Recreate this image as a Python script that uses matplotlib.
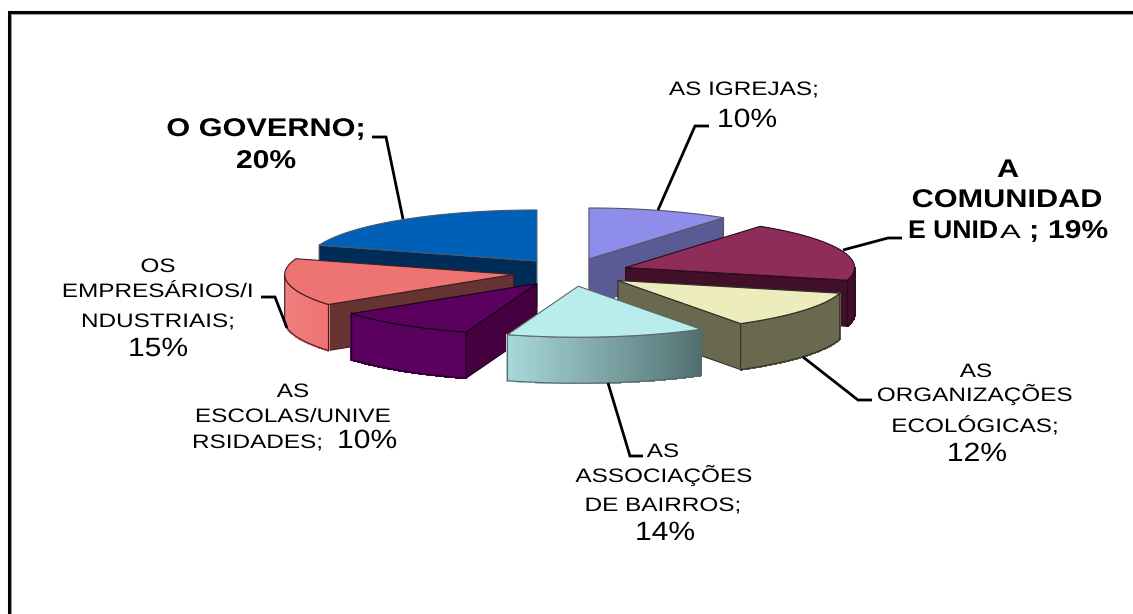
import numpy as np
import matplotlib
matplotlib.use('Agg')
import matplotlib.pyplot as plt
from matplotlib.colors import to_rgb
from matplotlib.patches import Polygon
from matplotlib.patheffects import AbstractPathEffect
from matplotlib.transforms import Affine2D

plt.rcParams['font.family'] = ['Liberation Sans', 'DejaVu Sans']

# slices, clockwise from 12 o'clock
names = ['AS IGREJAS', 'A COMUNIDADE UNIDA', 'AS ORGANIZAÇÕES ECOLÓGICAS', 'AS ASSOCIAÇÕES DE BAIRROS',
         'AS ESCOLAS/UNIVERSIDADES', 'OS EMPRESÁRIOS/INDUSTRIAIS', 'O GOVERNO']
values = [10, 19, 12, 14, 10, 15, 20]
top_colors = ['#8E8EEA', '#8E2D5A', '#ECECBC', '#B9EDED', '#5A005E', '#EE7474', '#0060B8']
side_colors = ['#5A5A94', '#401028', '#696950', '#6E9090', '#45003F', '#663333', '#002C58']
rim_left = ['#5A5A94', '#401028', '#696950', '#A9D8D8', '#5A005E', '#F08080', '#002C58']
rim_right = ['#5A5A94', '#401028', '#696950', '#4F6E70', '#5A005E', '#EE7474', '#002C58']
edge_colors = ['#55556a', '#2a0a1a', '#30302a', '#606868', '#1a0018', '#402020', '#445a70']
draw_order = [6, 0, 1, 2, 5, 4, 3]

# pie geometry in pixels
cx, cy = 571, 272.3
rx, ry = 229, 51
explode_x, explode_y = 58, 14
depth = 46


class StretchX(AbstractPathEffect):
    """the reference text is wider than the font, stretch it about x0"""
    def __init__(self, x0, sx):
        super().__init__()
        self.x0 = x0
        self.sx = sx

    def draw_path(self, renderer, gc, tpath, affine, rgbFace=None):
        extra = Affine2D().translate(-self.x0, 0).scale(self.sx, 1).translate(self.x0, 0)
        renderer.draw_path(gc, tpath, affine + extra, rgbFace)


fig = plt.figure(figsize=(11.33, 6.14), dpi=100)
ax = fig.add_axes([0, 0, 1, 1])
ax.set_xlim(0, 1133)
ax.set_ylim(614, 0)
ax.axis('off')

# frame: only top and left are there
ax.plot([1133, 9, 9], [12, 12, 614], color='black', lw=2.2, solid_joinstyle='miter')
ax.plot([1133, 10.5, 10.5], [13.8, 13.8, 614], color='#999999', lw=0.8)

fractions = np.array(values) / sum(values)
ends = np.cumsum(fractions) * 360
starts = ends - fractions * 360

for i in draw_order:
    a0, a1 = starts[i], ends[i]
    mid = np.radians((a0 + a1) / 2)
    ox = cx + explode_x * np.sin(mid)
    oy = cy - explode_y * np.cos(mid)

    def rim(a):
        a = np.radians(a)
        return ox + rx * np.sin(a), oy - ry * np.cos(a)

    # radial walls that face the viewer
    if a1 < 180:
        x, y = rim(a1)
        ax.add_patch(Polygon([(ox, oy), (x, y), (x, y + depth), (ox, oy + depth)],
                             fc=side_colors[i], ec=edge_colors[i], lw=0.8))
    if a0 > 180:
        x, y = rim(a0)
        ax.add_patch(Polygon([(ox, oy), (x, y), (x, y + depth), (ox, oy + depth)],
                             fc=side_colors[i], ec=edge_colors[i], lw=0.8))

    # outer wall, front half only
    r0, r1 = max(a0, 90), min(a1, 270)
    if r1 > r0:
        steps = np.linspace(r0, r1, 61)
        c0, c1 = np.array(to_rgb(rim_right[i])), np.array(to_rgb(rim_left[i]))
        xs, ys = rim(steps)
        for k in range(60):
            t = (k + 0.5) / 60
            # no antialiasing here, otherwise the strips show as stripes
            ax.add_patch(Polygon([(xs[k], ys[k]), (xs[k + 1], ys[k + 1]),
                                  (xs[k + 1], ys[k + 1] + depth), (xs[k], ys[k] + depth)],
                                 fc=c0 + (c1 - c0) * t, ec=c0 + (c1 - c0) * t, lw=1,
                                 antialiased=False))
        outline = list(zip(xs, ys)) + list(zip(xs[::-1], ys[::-1] + depth))
        ax.add_patch(Polygon(outline, fc='none', ec=edge_colors[i], lw=0.8))

    # top face
    xs, ys = rim(np.linspace(a0, a1, 80))
    ax.add_patch(Polygon([(ox, oy)] + list(zip(xs, ys)), fc=top_colors[i], ec=edge_colors[i], lw=0.8))

# leader lines
leaders = [
    [(658, 210), (695, 126), (709, 126)],
    [(843, 250), (888, 238), (902, 238)],
    [(803, 357), (858, 400), (872, 400)],
    [(608, 383), (630, 456), (643, 456)],
    [(287, 328), (275, 297), (261, 297)],
    [(403, 219), (386, 137), (372, 137)],
]
for pts in leaders:
    ax.plot(*zip(*pts), color='black', lw=2.0, solid_joinstyle='miter', solid_capstyle='butt')

# text runs: text, x, baseline, style, alignment
styles = {
    'thin': (14, 'normal', 1.25),
    'pct': (19, 'normal', 1.14),
    'bold': (18.4, 'bold', 1.2),
    'bold_pct': (18.5, 'bold', 1.17),
    'tight': (18.4, 'bold', 1.04),
    'small': (14, 'normal', 1.6),
}
runs = [
    ('AS IGREJAS;', 744, 95, 'thin', 'center'),
    ('10%', 747, 127, 'pct', 'center'),
    ('A', 1008, 177, 'bold', 'center'),
    ('COMUNIDAD', 1007, 207, 'bold', 'center'),
    ('E UNID', 908, 238, 'tight', 'left'),
    ('A', 1000, 238, 'small', 'left'),
    (';', 1029, 238, 'bold', 'left'),
    ('19%', 1048, 238, 'bold_pct', 'left'),
    ('AS', 976, 377, 'thin', 'center'),
    ('ORGANIZAÇÕES', 975, 401, 'thin', 'center'),
    ('ECOLÓGICAS;', 975, 432, 'thin', 'center'),
    ('12%', 977, 461, 'pct', 'center'),
    ('AS', 663, 457, 'thin', 'center'),
    ('ASSOCIAÇÕES', 664, 482, 'thin', 'center'),
    ('DE BAIRROS;', 663, 511, 'thin', 'center'),
    ('14%', 665, 540, 'pct', 'center'),
    ('AS', 293, 397, 'thin', 'center'),
    ('ESCOLAS/UNIVE', 293, 422, 'thin', 'center'),
    ('RSIDADES;', 192, 448, 'thin', 'left'),
    ('10%', 337, 448, 'pct', 'left'),
    ('OS', 158, 272, 'thin', 'center'),
    ('EMPRESÁRIOS/I', 158, 297, 'thin', 'center'),
    ('NDUSTRIAIS;', 158, 327, 'thin', 'center'),
    ('15%', 158, 356, 'pct', 'center'),
    ('O GOVERNO;', 266, 136, 'bold', 'center'),
    ('20%', 266, 168, 'bold_pct', 'center'),
]
for text, x, y, style, ha in runs:
    size, weight, sx = styles[style]
    ax.text(x, y, text, fontsize=size, fontweight=weight, ha=ha, va='baseline', color='black',
            path_effects=[StretchX(x, sx)])

fig.savefig('out.png', dpi=100)
